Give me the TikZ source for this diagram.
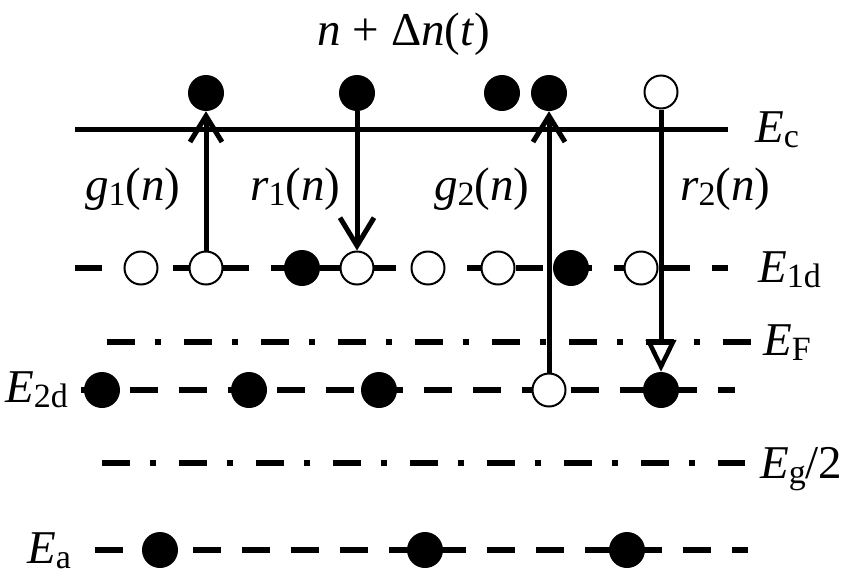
\documentclass[tikz,border=0pt]{standalone}
\usepackage{fontspec}
\setmainfont{Liberation Serif}
\usetikzlibrary{arrows.meta}
\newcommand\lsub[1]{\raisebox{-0.12em}{\fontsize{34}{34}\selectfont #1}}
\newcommand\ii[1]{\textit{#1}}
\begin{document}
\begin{tikzpicture}[x=1pt,y=-1pt,
  lvl/.style={line width=5pt},
  dsh/.style={line width=5.5pt,dash pattern=on 27pt off 22pt},
  dd/.style={line width=5.5pt,dash pattern=on 28pt off 20pt on 6pt off 23pt},
  fe/.style={circle,fill=black,minimum size=36pt,inner sep=0},
  ho/.style={circle,draw=black,fill=white,line width=2pt,minimum size=33pt,inner sep=0},
  lab/.style={anchor=base west,inner sep=0,font=\fontsize{47}{50}\selectfont},
  tr/.style={line width=5pt},
  up/.style={tr,-{Straight Barb[length=26pt,width=32pt,line width=5pt]}},
  dn/.style={tr,-{Straight Barb[length=28pt,width=34pt,line width=5pt]}},
  dno/.style={tr,-{Triangle[open,length=32pt,width=30pt,line width=4.5pt]}},
]
\fill[white] (0,0) rectangle (845,584);
\useasboundingbox (0,0) rectangle (845,584);

% levels
\coordinate (ec0) at (75,129);  \coordinate (ec1) at (728,129);
\coordinate (e10) at (75,268);  \coordinate (e11) at (728,268);
\coordinate (ef0) at (107,342); \coordinate (ef1) at (752,342);
\coordinate (e20) at (81,390);  \coordinate (e21) at (735,390);
\coordinate (eg0) at (102,463); \coordinate (eg1) at (745,463);
\coordinate (ea0) at (95,550);  \coordinate (ea1) at (748,550);
\draw[lvl] (ec0) -- (ec1);
\draw[dsh] (e10) -- (e11);
\draw[dd]  (ef0) -- (ef1);
\draw[dsh,dash pattern=on 28pt off 21pt] (e20) -- (e21);
\draw[dd]  (eg0) -- (eg1);
\draw[dsh,dash pattern=on 28pt off 21pt] (ea0) -- (ea1);

% conduction band carriers
\node[fe] (c1) at (206,93) {};
\node[fe] (c2) at (357,93) {};
\node[fe] (c3) at (502,93) {};
\node[fe] (c4) at (549,93) {};
\node[ho] (c5) at (661,92) {};

% E1d
\node[ho] (a1) at (141,268) {};
\node[ho] (a2) at (206,268) {};
\node[fe] (a3) at (302,268) {};
\node[ho] (a4) at (357,268) {};
\node[ho] (a5) at (428,268) {};
\node[ho] (a6) at (498,268) {};
\node[fe] (a7) at (571,268) {};
\node[ho] (a8) at (641,268) {};

% E2d
\node[fe] (b1) at (102,390) {};
\node[fe] (b2) at (249,390) {};
\node[fe] (b3) at (379,390) {};
\node[ho] (b4) at (549,390) {};
\node[fe] (b5) at (661,390) {};

% Ea
\node[fe] (d1) at (160,550) {};
\node[fe] (d2) at (425,550) {};
\node[fe] (d3) at (627,550) {};

% transitions
\draw[up]  (a2.north) -- (c1.south);
\draw[dn]  (c2.south) -- (a4.north);
\draw[up]  (b4.north) -- (c4.south);
\draw[dno] (c5.south) -- (b5.north);

% labels
\node[lab,anchor=base] (title) at (404,45) {\ii{n} + Δ\ii{n}(\ii{t})};
\node[lab] (tg1) at (85,200)  {\ii{g}\lsub{1}(\ii{n})};
\node[lab] (tr1) at (250,200) {\ii{r}\lsub{1}(\ii{n})};
\node[lab] (tg2) at (434,200) {\ii{g}\lsub{2}(\ii{n})};
\node[lab] (tr2) at (680,200) {\ii{r}\lsub{2}(\ii{n})};
\node[lab] (tEc) at (755,142) {\ii{E}\lsub{c}};
\node[lab] (tE1) at (758,282) {\ii{E}\lsub{1d}};
\node[lab] (tEF) at (763,355) {\ii{E}\lsub{F}};
\node[lab] (tEg) at (760,478) {\ii{E}\lsub{g}/2};
\node[lab] (tE2) at (5,402)   {\ii{E}\lsub{2d}};
\node[lab] (tEa) at (27,563)  {\ii{E}\lsub{a}};
\end{tikzpicture}
\end{document}
